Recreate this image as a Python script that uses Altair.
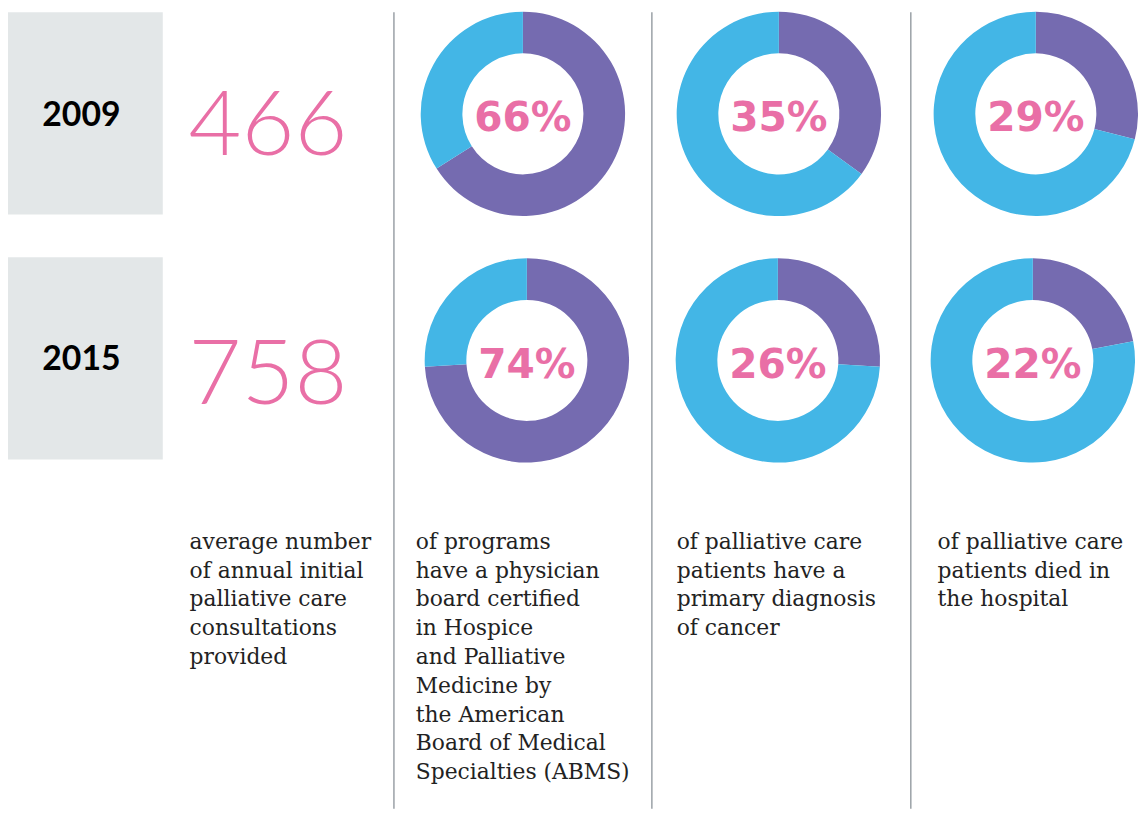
import altair as alt
import pandas as pd

# ---- data ----
years = ["2009", "2015"]
consultations = [466, 758]
board_certified = [66, 74]
cancer_diagnosis = [35, 26]
died_in_hospital = [29, 22]
descriptions = [
    ["average number", "of annual initial", "palliative care", "consultations", "provided"],
    ["of programs", "have a physician", "board certified", "in Hospice", "and Palliative",
     "Medicine by", "the American", "Board of Medical", "Specialties (ABMS)"],
    ["of palliative care", "patients have a", "primary diagnosis", "of cancer"],
    ["of palliative care", "patients died in", "the hospital"],
]

# ---- layout (chart coords = reference px - 8 for page margin) ----
OFF = 8
W, H = 1130, 803
PURPLE = "#756BB0"
BLUE = "#43B6E6"
PINK = "#E96FA6"
GREY = "#E3E7E8"
TEXT = "#222222"
LINE = "#9AA0A6"

row_box = [(8, 212), (255, 459)]
row_year_base = [123, 369]
row_num_base = [152, 403]
row_pct_base = [128, 377]
row_cy = [110.5, 359]
donut_cx = [[527, 785, 1044], [531, 784, 1041]]
sep_x = [397, 657, 918]
desc_x = [191, 419, 682, 945]
desc_base0 = 549
line_h = 29

xs = alt.Scale(domain=[0, W], range=[0, W], nice=False, zero=False)
ys = alt.Scale(domain=[0, H], range=[0, H], nice=False, zero=False)

# grey boxes + years + numbers
rows = []
for i, yr in enumerate(years):
    rows.append(dict(x=0, x2=164 - OFF, y=row_box[i][0] - OFF, y2=row_box[i][1] - OFF,
                     yx=82 - OFF, yb=row_year_base[i] - OFF, year=yr,
                     nx=190 - OFF, nb=row_num_base[i] - OFF, num=str(consultations[i])))
rdf = pd.DataFrame(rows)

boxes = alt.Chart(rdf).mark_rect(color=GREY).encode(
    x=alt.X("x:Q", scale=xs, axis=None), x2="x2:Q",
    y=alt.Y("y:Q", scale=ys, axis=None), y2="y2:Q")
year_txt = alt.Chart(rdf).mark_text(font="Lato", fontWeight="bold", fontSize=34,
                                    color="#000000", align="center", baseline="alphabetic").encode(
    x=alt.X("yx:Q", scale=xs, axis=None), y=alt.Y("yb:Q", scale=ys, axis=None), text="year:N")
num_txt = alt.Chart(rdf).mark_text(font="Lato", fontWeight=300, fontSize=92,
                                   color=PINK, align="left", baseline="alphabetic").encode(
    x=alt.X("nx:Q", scale=xs, axis=None), y=alt.Y("nb:Q", scale=ys, axis=None), text="num:N")

# donuts
series = [board_certified, cancer_diagnosis, died_in_hospital]
arcs = []
pcts = []
for r in range(2):
    for c, s in enumerate(series):
        v = s[r]
        cx = donut_cx[r][c] - OFF
        cy = row_cy[r] - OFF
        arcs.append(dict(cx=cx, cy=cy, t0=0, t1=v, part="share"))
        arcs.append(dict(cx=cx, cy=cy, t0=v, t1=100, part="rest"))
        pcts.append(dict(cx=cx, b=row_pct_base[r] - OFF, label=f"{v}%"))
adf = pd.DataFrame(arcs)
pdf = pd.DataFrame(pcts)

donuts = alt.Chart(adf).mark_arc(outerRadius=103, innerRadius=61).encode(
    x=alt.X("cx:Q", scale=xs, axis=None), y=alt.Y("cy:Q", scale=ys, axis=None),
    theta=alt.Theta("t0:Q", scale=alt.Scale(domain=[0, 100], range=[0, 6.283185307179586])),
    theta2="t1:Q",
    color=alt.Color("part:N", scale=alt.Scale(domain=["share", "rest"], range=[PURPLE, BLUE]),
                    legend=None))
pct_txt = alt.Chart(pdf).mark_text(font="DejaVu Sans", fontWeight="bold", fontSize=41, color=PINK,
                                   align="center", baseline="alphabetic").encode(
    x=alt.X("cx:Q", scale=xs, axis=None), y=alt.Y("b:Q", scale=ys, axis=None), text="label:N")

# separators
sdf = pd.DataFrame([dict(x=sx - OFF, y=0, y2=H) for sx in sep_x])
seps = alt.Chart(sdf).mark_rule(color=LINE, strokeWidth=1.5).encode(
    x=alt.X("x:Q", scale=xs, axis=None), y=alt.Y("y:Q", scale=ys, axis=None), y2="y2:Q")

# descriptions
drows = []
for c, lines in enumerate(descriptions):
    for k, ln in enumerate(lines):
        drows.append(dict(x=desc_x[c] - OFF, b=desc_base0 + k * line_h - OFF, t=ln))
ddf = pd.DataFrame(drows)
desc = alt.Chart(ddf).mark_text(font="DejaVu Serif", fontSize=22, color=TEXT,
                                align="left", baseline="alphabetic").encode(
    x=alt.X("x:Q", scale=xs, axis=None), y=alt.Y("b:Q", scale=ys, axis=None), text="t:N")

chart = alt.layer(boxes, seps, donuts, year_txt, num_txt, pct_txt, desc).properties(
    width=W, height=H, padding=0
).configure_view(stroke=None)

chart.save("out.html", embed_options={"renderer": "svg", "actions": False})
